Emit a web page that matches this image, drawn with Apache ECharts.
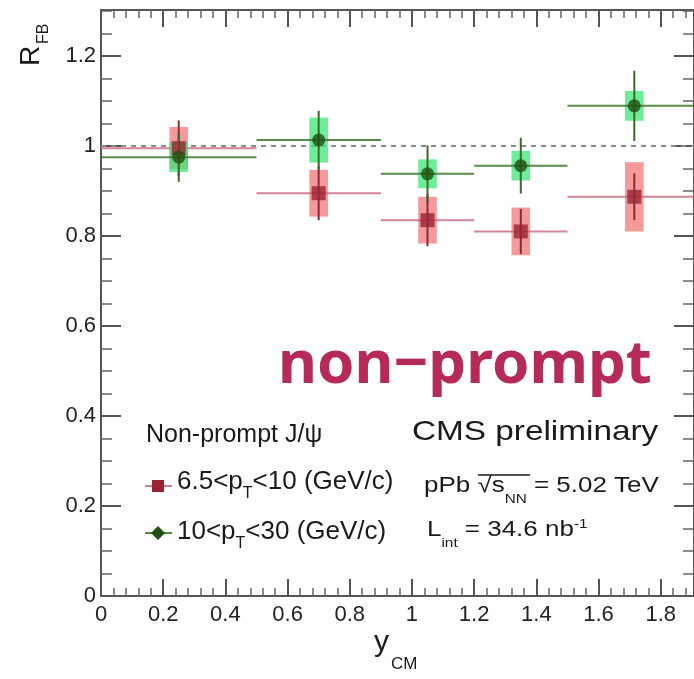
<!DOCTYPE html>
<html lang="en">
<head>
<meta charset="UTF-8">
<title>R_FB non-prompt J/psi</title>
<script src="https://cdn.jsdelivr.net/npm/echarts@6/dist/echarts.min.js"></script>
<style>html,body{margin:0;padding:0;background:#fff}</style>
</head>
<body>
<div id="main" style="width:694px;height:679px"></div>
<script>
// bins in y_CM
var binLo = [0, 0.5, 0.9, 1.2, 1.5];
var binHi = [0.5, 0.9, 1.2, 1.5, 1.93];
var binX = [0.25, 0.7, 1.05, 1.35, 1.715];
// 6.5<pT<10
var redVal = [0.995, 0.895, 0.835, 0.81, 0.887];
var redStat = [0.062, 0.06, 0.058, 0.05, 0.052];
var redSys = [0.047, 0.052, 0.052, 0.053, 0.077];
// 10<pT<30
var greenVal = [0.975, 1.013, 0.938, 0.956, 1.089];
var greenStat = [0.055, 0.065, 0.063, 0.062, 0.078];
var greenSys = [0.033, 0.05, 0.032, 0.033, 0.033];

var xMax = 1.907, yMax = 1.302;
var boxHalf = 0.03;
var font = 'Liberation Sans';
var ink = '#1a1a1a';

function rows(val, stat, sys) {
    var out = [];
    for (var i = 0; i < val.length; i++) {
        out.push([binLo[i], binHi[i], binX[i], val[i], stat[i], sys[i]]);
    }
    return out;
}

function makeRender(boxColor, lineColor, statColor) {
    return function (params, api) {
        var lo = api.value(0), hi = api.value(1), x = api.value(2);
        var v = api.value(3), st = api.value(4), sy = api.value(5);
        var a = api.coord([x - boxHalf, v + sy]);
        var b = api.coord([x + boxHalf, v - sy]);
        var l = api.coord([lo, v]), r = api.coord([hi, v]);
        var t = api.coord([x, v + st]), d = api.coord([x, v - st]);
        return {
            type: 'group',
            children: [
                {type: 'rect', shape: {x: a[0], y: a[1], width: b[0] - a[0], height: b[1] - a[1]},
                    style: {fill: boxColor}},
                {type: 'line', shape: {x1: l[0], y1: l[1], x2: r[0], y2: r[1]},
                    style: {stroke: lineColor, lineWidth: 2}},
                {type: 'line', shape: {x1: t[0], y1: t[1], x2: d[0], y2: d[1]},
                    style: {stroke: statColor, lineWidth: 2}}
            ]
        };
    };
}

function points(val) {
    return binX.map(function (x, i) { return [x, val[i]]; });
}

var axisLine = {show: true, onZero: false, lineStyle: {color: '#555', width: 2}};

function xAx(pos, labels) {
    return {
        type: 'value', min: 0, max: xMax, interval: 0.2, position: pos,
        axisLine: axisLine,
        axisTick: {inside: true, length: 17, lineStyle: {color: '#555', width: 2}},
        minorTick: {show: true, splitNumber: 5, length: 8, lineStyle: {color: '#666', width: 1.5}},
        splitLine: {show: false},
        axisLabel: {show: labels, fontSize: 22, color: '#222', margin: 8, fontFamily: font, showMaxLabel: false}
    };
}
function yAx(pos, labels) {
    return {
        type: 'value', min: 0, max: yMax, interval: 0.2, position: pos,
        axisLine: axisLine,
        axisTick: {inside: true, length: 20, lineStyle: {color: '#555', width: 2}},
        minorTick: {show: true, splitNumber: 4, length: 11, lineStyle: {color: '#666', width: 1.5}},
        splitLine: {show: false},
        axisLabel: {show: labels, fontSize: 22, color: '#222', margin: 5, fontFamily: font, showMaxLabel: false}
    };
}

// rich text with subscripts
function rich(size, subSize, subLH) {
    return {
        m: {fontSize: size, fontFamily: font, fill: ink, lineHeight: 40},
        s: {fontSize: subSize, fontFamily: font, fill: ink, verticalAlign: 'bottom', lineHeight: subLH}
    };
}

var chart = echarts.init(document.getElementById('main'));
var option = {
    animation: false,
    grid: {left: 101, right: 0, top: 10, bottom: 83},
    xAxis: [xAx('bottom', true), xAx('top', false)],
    yAxis: [yAx('left', true), yAx('right', false)],
    series: [
        {
            type: 'line', data: [[0, 1], [xMax, 1]], symbol: 'none', silent: true, z: 1,
            lineStyle: {color: '#8a8a8a', width: 2, type: [5, 5]}
        },
        {
            type: 'custom', data: rows(redVal, redStat, redSys), clip: true, z: 2,
            renderItem: makeRender('rgba(240,120,120,0.75)', 'rgba(200,100,120,0.8)', '#8c2a3a')
        },
        {
            type: 'custom', data: rows(greenVal, greenStat, greenSys), clip: true, z: 3,
            renderItem: makeRender('rgba(60,230,120,0.75)', 'rgba(60,120,40,0.85)', '#3d6a2a')
        },
        {
            type: 'scatter', data: points(redVal), symbol: 'rect', symbolSize: 14, z: 4,
            itemStyle: {color: '#9a2333'}
        },
        {
            type: 'scatter', data: points(greenVal), symbol: 'circle', symbolSize: 13, z: 5,
            itemStyle: {color: '#1f4f12'}
        }
    ],
    graphic: [
        {type: 'text', x: 278, y: 366, style: {text: 'non\u2212prompt', font: 'bold 60px "Noto Sans"',
            fill: '#b52a58', verticalAlign: 'middle'}},
        {type: 'text', x: 412, y: 432, scaleX: 1.19, style: {text: 'CMS preliminary', font: '28px ' + font,
            fill: ink, verticalAlign: 'middle'}},
        {type: 'text', x: 424, y: 486, scaleX: 1.18, style: {
            text: '{m|pPb \u221A}{m|s}{s|NN}{m| = 5.02 TeV}', verticalAlign: 'middle',
            rich: rich(22, 13, 10)
        }},
        {type: 'line', shape: {x1: 478, y1: 475, x2: 530, y2: 475}, style: {stroke: ink, lineWidth: 1.5}},
        {type: 'text', x: 427, y: 530, scaleX: 1.18, style: {
            text: '{m|L}{s|int}{m| = 34.6 nb}', verticalAlign: 'middle',
            rich: rich(22, 13, 10)
        }},
        {type: 'text', x: 574, y: 524, scaleX: 1.18, style: {text: '-1', font: '13px ' + font,
            fill: ink, verticalAlign: 'middle'}},
        {type: 'text', x: 146, y: 435, style: {text: 'Non-prompt J/\u03C8', font: '25px ' + font,
            fill: ink, verticalAlign: 'middle'}},
        {type: 'line', shape: {x1: 145, y1: 486, x2: 172, y2: 486}, style: {stroke: '#d08090', lineWidth: 2}},
        {type: 'rect', shape: {x: 152, y: 480, width: 12, height: 12}, style: {fill: '#9a2333'}},
        {type: 'text', x: 177, y: 482, style: {
            text: '{m|6.5<p}{s|T}{m|<10 (GeV/c)}', verticalAlign: 'middle',
            rich: rich(26, 16, 6)
        }},
        {type: 'line', shape: {x1: 145, y1: 533, x2: 172, y2: 533}, style: {stroke: '#4f8a3a', lineWidth: 2}},
        {type: 'polygon', shape: {points: [[158, 526], [165, 533], [158, 540], [151, 533]]}, style: {fill: '#1f4f12'}},
        {type: 'text', x: 177, y: 532, style: {
            text: '{m|10<p}{s|T}{m|<30 (GeV/c)}', verticalAlign: 'middle',
            rich: rich(26, 16, 6)
        }},
        {type: 'text', x: 31, y: 66, rotation: Math.PI / 2, style: {text: 'R', font: '28px ' + font,
            fill: ink, verticalAlign: 'middle'}},
        {type: 'text', x: 44, y: 44, rotation: Math.PI / 2, style: {text: 'FB', font: '16px ' + font,
            fill: ink, verticalAlign: 'middle'}},
        {type: 'text', x: 374, y: 643, style: {text: 'y', font: '30px ' + font,
            fill: ink, verticalAlign: 'middle'}},
        {type: 'text', x: 391, y: 664, style: {text: 'CM', font: '17px ' + font,
            fill: ink, verticalAlign: 'middle'}}
    ]
};
chart.setOption(option);
</script>
</body>
</html>
